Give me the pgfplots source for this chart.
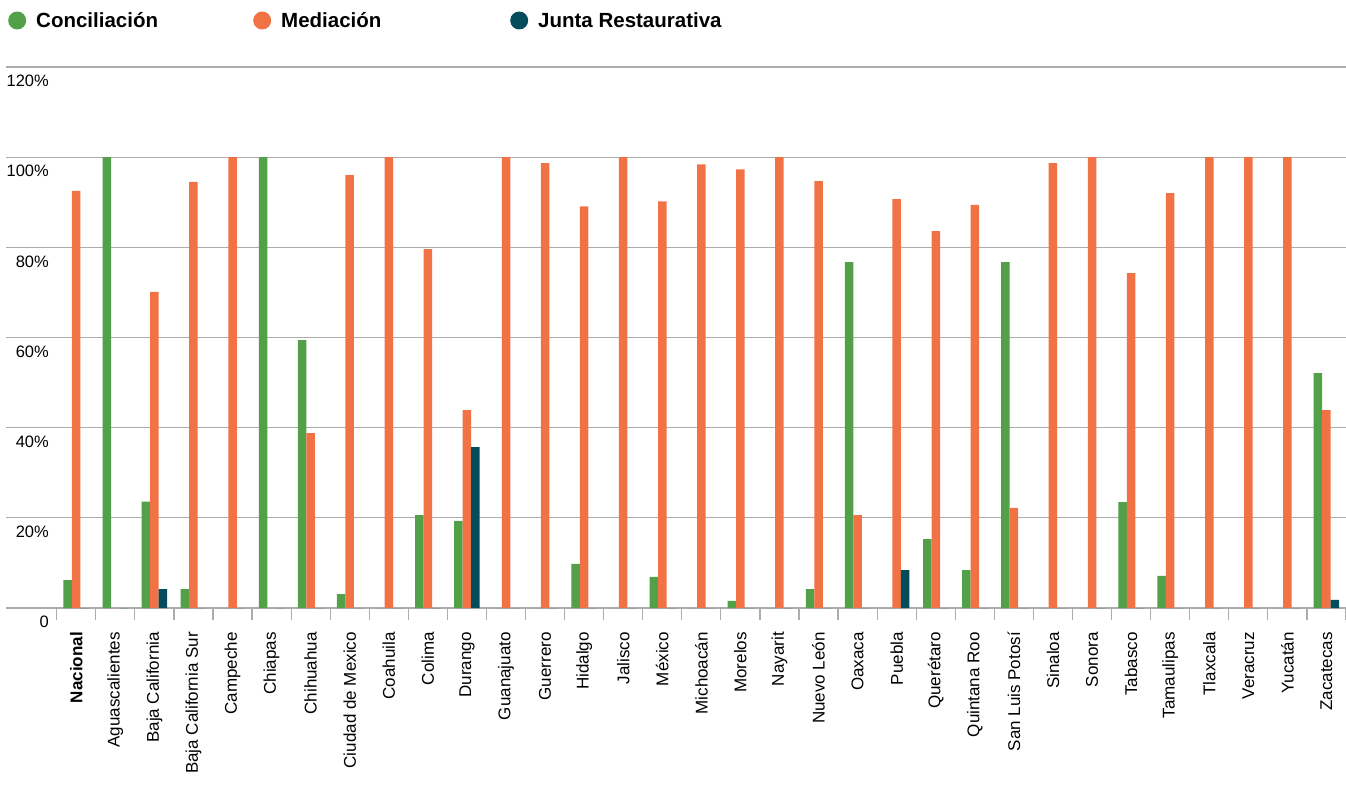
\documentclass[border=0pt]{standalone}
\usepackage{pgfplots}
\pgfplotsset{compat=1.18}
\usepackage{pgfplotstable}
\usepackage{fontspec}
\setmainfont{Liberation Sans}
\definecolor{cgreen}{RGB}{82,160,71}
\definecolor{corange}{RGB}{241,115,69}
\definecolor{cdark}{RGB}{4,76,92}
\definecolor{cgrid}{RGB}{172,172,172}
\pgfplotstableread{
idx G M J
0 6.2 92.5 0
1 100 0 0
2 23.6 70.1 4.2
3 4.2 94.5 0
4 0 100 0
5 100 0 0
6 59.4 38.8 0
7 3.1 96 0
8 0 100 0
9 20.6 79.6 0
10 19.3 43.9 35.7
11 0 100 0
12 0 98.7 0
13 9.8 89.1 0
14 0 100 0
15 6.9 90.2 0
16 0 98.4 0
17 1.6 97.3 0
18 0 100 0
19 4.2 94.7 0
20 76.7 20.6 0
21 0 90.7 8.4
22 15.3 83.6 0
23 8.4 89.4 0
24 76.7 22.2 0
25 0 98.7 0
26 0 100 0
27 23.5 74.3 0
28 7.1 92.0 0
29 0 100 0
30 0 100 0
31 0 100 0
32 52.1 43.9 1.8
}\datatable
\begin{document}
\begin{tikzpicture}
\path[use as bounding box] (0,0) rectangle (1346pt,785pt);
\begin{axis}[
  at={(6pt,177pt)}, anchor=south west,
  scale only axis, width=1340pt, height=541pt,
  xmin=-1.798, xmax=32.5, ymin=0, ymax=120,
  ybar=0pt, bar width=8.5pt,
  axis y line*=left, axis x line*=bottom,
  y axis line style={draw=none},
  x axis line style={cgrid, line width=1.2pt, -},
  ytick={0,20,40,60,80,100,120},
  yticklabels={0,20\%,40\%,60\%,80\%,100\%,120\%},
  ytick style={draw=none},
  ymajorgrids, grid style={cgrid, line width=1.2pt},
  xtick={0,...,32},
  xticklabels={{\bfseries Nacional},Aguascalientes,Baja California,Baja California Sur,Campeche,Chiapas,Chihuahua,Ciudad de Mexico,Coahuila,Colima,Durango,Guanajuato,Guerrero,Hidalgo,Jalisco,México,Michoacán,Morelos,Nayarit,Nuevo León,Oaxaca,Puebla,Querétaro,Quintana Roo,San Luis Potosí,Sinaloa,Sonora,Tabasco,Tamaulipas,Tlaxcala,Veracruz,Yucatán,Zacatecas},
  minor xtick={-0.5,0.5,...,32.5},
  major tick length=0pt, minor tick length=12pt, tick align=outside,
  minor tick style={cgrid, line width=1.2pt},
  xticklabel style={yshift=-24pt, rotate=90, anchor=east, inner sep=0pt, font=\fontsize{17}{20}\selectfont},
  yticklabel style={anchor=north east, xshift=43pt, yshift=-8pt, inner sep=0pt, font=\fontsize{16.5}{20}\selectfont},
  /pgf/number format/assume math mode=true,
  legend columns=3,
  legend style={at={(0,1)}, anchor=west, xshift=2pt, yshift=46.5pt, draw=none, fill=none, inner sep=0pt,
    font=\fontsize{20.5}{24}\selectfont\bfseries,
    nodes={inner sep=0pt},
    /tikz/every odd column/.append style={column sep=10pt}},
]
\addplot[fill=cgreen, draw=none, legend image code/.code={\fill[cgreen] (9pt,0.5pt) circle (9pt);}] table[x=idx,y=G]{\datatable};
\addlegendentry{\makebox[217pt][l]{Conciliación}}
\addplot[fill=corange, draw=none, legend image code/.code={\fill[corange] (9pt,0.5pt) circle (9pt);}] table[x=idx,y=M]{\datatable};
\addlegendentry{\makebox[229pt][l]{Mediación}}
\addplot[fill=cdark, draw=none, legend image code/.code={\fill[cdark] (9pt,0.5pt) circle (9pt);}] table[x=idx,y=J]{\datatable};
\addlegendentry{Junta Restaurativa}
\end{axis}
\end{tikzpicture}
\end{document}
